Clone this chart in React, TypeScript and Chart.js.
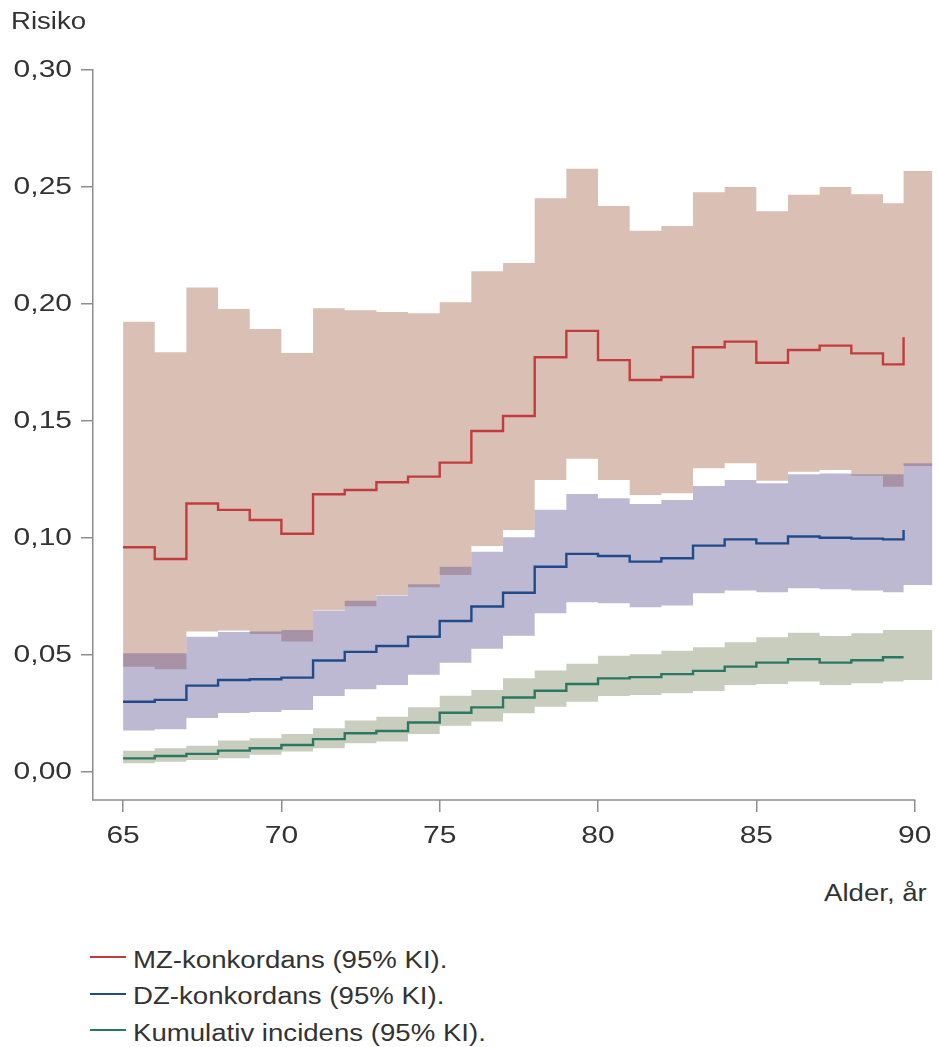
import React, { useEffect, useRef } from 'react';
import { Chart, registerables } from 'chart.js';

Chart.register(...registerables);

// ---------- data ----------
const ages = [65, 66, 67, 68, 69, 70, 71, 72, 73, 74, 75, 76, 77, 78, 79, 80, 81, 82, 83, 84, 85, 86, 87, 88, 89, 89.65];
const bandEnd = 90.565;
const xAxisEnd = 90;
const xMin = 64.05;
const yMin = -0.012;
const yMax = 0.3;
const xTickValues = [65, 70, 75, 80, 85, 90];
const xTickLabels = ['65', '70', '75', '80', '85', '90'];
const yTickValues = [0, 0.05, 0.1, 0.15, 0.2, 0.25, 0.3];
const yTickLabels = ['0,00', '0,05', '0,10', '0,15', '0,20', '0,25', '0,30'];

const mzLine = [0.096, 0.091, 0.1147, 0.112, 0.1077, 0.1018, 0.1187, 0.1205, 0.1238, 0.1262, 0.1322, 0.1457, 0.1521, 0.1772, 0.1885, 0.176, 0.1675, 0.1688, 0.1815, 0.1839, 0.1749, 0.1803, 0.1822, 0.1789, 0.1742, 0.1858];
const mzUpper = [0.1924, 0.1794, 0.207, 0.1979, 0.1893, 0.179, 0.1982, 0.1973, 0.1966, 0.196, 0.2007, 0.214, 0.2175, 0.2452, 0.2578, 0.2419, 0.2313, 0.2333, 0.2477, 0.25, 0.2396, 0.2467, 0.25, 0.2469, 0.243, 0.2568];
const mzLower = [0.045, 0.0439, 0.06, 0.0604, 0.059, 0.0557, 0.0692, 0.0708, 0.0756, 0.0789, 0.0842, 0.0966, 0.1034, 0.1248, 0.1338, 0.1248, 0.1184, 0.1191, 0.1298, 0.1319, 0.1245, 0.1283, 0.129, 0.1266, 0.1219, 0.1308];

const dzLine = [0.03, 0.0308, 0.0369, 0.0393, 0.0396, 0.0403, 0.0476, 0.0513, 0.0538, 0.0578, 0.0645, 0.0707, 0.0766, 0.0877, 0.0932, 0.0923, 0.0899, 0.0913, 0.0967, 0.0994, 0.0977, 0.1006, 0.1001, 0.0997, 0.0994, 0.1034];
const dzUpper = [0.0507, 0.0507, 0.0578, 0.0598, 0.06, 0.0607, 0.069, 0.0732, 0.0754, 0.0802, 0.0877, 0.0941, 0.1003, 0.112, 0.1188, 0.117, 0.1145, 0.1162, 0.1222, 0.1248, 0.1234, 0.1272, 0.1275, 0.1272, 0.1272, 0.1319];
const dzLower = [0.0177, 0.0182, 0.0231, 0.0252, 0.0256, 0.0265, 0.0325, 0.0353, 0.0372, 0.0415, 0.0467, 0.0526, 0.0582, 0.0678, 0.0725, 0.0721, 0.0704, 0.0711, 0.0764, 0.0775, 0.0768, 0.0785, 0.0781, 0.0775, 0.0768, 0.0799];

const ciLine = [0.0058, 0.0068, 0.0077, 0.0091, 0.0101, 0.0115, 0.014, 0.0165, 0.0175, 0.0211, 0.0253, 0.0276, 0.0318, 0.0347, 0.0376, 0.04, 0.0405, 0.0418, 0.0432, 0.045, 0.0467, 0.0482, 0.0467, 0.0477, 0.049, 0.049];
const ciUpper = [0.009, 0.0101, 0.0112, 0.0134, 0.0144, 0.0162, 0.0187, 0.022, 0.0236, 0.0276, 0.0326, 0.035, 0.04, 0.0433, 0.0462, 0.0496, 0.0503, 0.0518, 0.0533, 0.0554, 0.0576, 0.0595, 0.0581, 0.0593, 0.0607, 0.0607];
const ciLower = [0.0037, 0.0044, 0.0051, 0.0058, 0.0073, 0.0087, 0.0101, 0.0123, 0.013, 0.0162, 0.0197, 0.0215, 0.0251, 0.0279, 0.03, 0.0325, 0.0329, 0.0336, 0.0346, 0.0372, 0.0376, 0.0386, 0.0372, 0.0379, 0.0386, 0.0393];

const legendLabels = ['MZ-konkordans (95% KI).', 'DZ-konkordans (95% KI).', 'Kumulativ incidens (95% KI).'];
const yTitle = 'Risiko';
const xTitle = 'Alder, år';

// ---------- styles ----------
const RED = '#c23c3d';
const BLUE = '#1f4b8c';
const GREEN = '#2a7862';
const MZ_BAND = '#dac0b4';
const DZ_BAND = 'rgba(90,80,142,0.4)';
const CI_BAND = '#c8cdbd';
const AXIS = '#8e8e8e';
const TEXT = '#333333';
const FONT = '"Liberation Sans", Arial, sans-serif';
const TICK_STRETCH = 1.25;

const lineData = (vals: number[]) => ages.map((x, i) => ({ x, y: vals[i] }));
const bandData = (vals: number[]) =>
  [...ages, bandEnd].map((x, i) => ({ x, y: vals[Math.min(i, vals.length - 1)] }));

const band = (label: string, vals: number[], bg: string, order: number, fill: any) => ({
  label,
  data: bandData(vals),
  stepped: true,
  borderWidth: 0,
  borderColor: 'rgba(0,0,0,0)',
  backgroundColor: bg,
  pointRadius: 0,
  pointHoverRadius: 0,
  fill,
  order,
});

const line = (label: string, vals: number[], color: string) => ({
  label,
  data: lineData(vals),
  stepped: true,
  borderWidth: 2.4,
  borderColor: color,
  backgroundColor: color,
  pointRadius: 0,
  pointHoverRadius: 0,
  fill: false,
  order: 1,
  borderJoinStyle: 'miter',
  borderCapStyle: 'butt',
});

// tick labels of the reference are set in a wide face: stretch them horizontally
const axisPlugin = {
  id: 'axisExtras',
  beforeDraw(chart: any) {
    const ctx = chart.ctx as any;
    if (!ctx.__origFillText) {
      ctx.__origFillText = ctx.fillText;
      ctx.fillText = function (t: string, x: number, y: number, mw?: number) {
        this.save();
        this.translate(x, y);
        this.scale(TICK_STRETCH, 1);
        if (mw === undefined) this.__origFillText(t, 0, 0);
        else this.__origFillText(t, 0, 0, mw / TICK_STRETCH);
        this.restore();
      };
    }
  },
  afterDraw(chart: any) {
    const { ctx, chartArea, scales } = chart;
    const xs = scales.x;
    ctx.save();
    ctx.strokeStyle = AXIS;
    ctx.lineWidth = 1.5;
    ctx.beginPath();
    ctx.moveTo(chartArea.left - 0.75, chartArea.bottom);
    ctx.lineTo(xs.getPixelForValue(xAxisEnd) + 0.75, chartArea.bottom);
    ctx.stroke();
    ctx.restore();
  },
};

const textStyle = (left: number, top: number): React.CSSProperties => ({
  position: 'absolute',
  left,
  top,
  fontFamily: FONT,
  fontSize: 23,
  lineHeight: '23px',
  color: TEXT,
  whiteSpace: 'nowrap',
  transform: 'scaleX(1.2)',
  transformOrigin: '0 0',
});

export default function App() {
  const ref = useRef<HTMLCanvasElement>(null);

  useEffect(() => {
    if (!ref.current) return;
    const chart = new Chart(ref.current, {
      type: 'line',
      data: {
        datasets: [
          band('MZ upper', mzUpper, MZ_BAND, 10, '+1'),
          band('MZ lower', mzLower, MZ_BAND, 10, false),
          band('DZ upper', dzUpper, DZ_BAND, 9, '+1'),
          band('DZ lower', dzLower, DZ_BAND, 9, false),
          band('CI upper', ciUpper, CI_BAND, 8, '+1'),
          band('CI lower', ciLower, CI_BAND, 8, false),
          line(legendLabels[0], mzLine, RED),
          line(legendLabels[1], dzLine, BLUE),
          line(legendLabels[2], ciLine, GREEN),
        ] as any,
      },
      options: {
        animation: false,
        responsive: false,
        events: [],
        layout: { padding: { top: 70, left: 0, right: 0, bottom: 0 } },
        plugins: {
          legend: { display: false },
          tooltip: { enabled: false },
          title: { display: false },
        },
        scales: {
          x: {
            type: 'linear',
            min: xMin,
            max: bandEnd,
            border: { display: false },
            grid: { drawOnChartArea: false, drawTicks: true, tickLength: 12, color: AXIS, lineWidth: 1.5 },
            ticks: {
              font: { family: FONT, size: 24 },
              color: TEXT,
              padding: 10,
              maxRotation: 0,
              autoSkip: false,
              callback: (_v: any, i: number) => xTickLabels[i],
            },
            afterBuildTicks: (s: any) => {
              s.ticks = xTickValues.map((v) => ({ value: v }));
            },
            afterFit: (s: any) => {
              s.height = 70;
            },
          },
          y: {
            type: 'linear',
            min: yMin,
            max: yMax,
            border: { display: true, color: AXIS, width: 1.5 },
            grid: { drawOnChartArea: false, drawTicks: true, tickLength: 12, color: AXIS, lineWidth: 1.5 },
            ticks: {
              font: { family: FONT, size: 24 },
              color: TEXT,
              padding: 9,
              callback: (_v: any, i: number) => yTickLabels[i],
            },
            afterBuildTicks: (s: any) => {
              s.ticks = yTickValues.map((v) => ({ value: v }));
            },
            afterFit: (s: any) => {
              s.width = 93;
            },
          },
        } as any,
      },
      plugins: [axisPlugin],
    });
    return () => chart.destroy();
  }, []);

  const legendColors = [RED, BLUE, GREEN];

  return (
    <div
      style={{
        position: 'fixed',
        left: 0,
        top: 0,
        width: 938,
        height: 1047,
        background: '#ffffff',
        overflow: 'hidden',
      }}
    >
      <canvas
        ref={ref}
        width={938}
        height={870}
        style={{ position: 'absolute', left: 0, top: 0, width: 938, height: 870 }}
      />
      <div style={textStyle(11, 10)}>{yTitle}</div>
      <div style={textStyle(824, 881.5)}>{xTitle}</div>
      {legendLabels.map((lab, i) => (
        <React.Fragment key={lab}>
          <div
            style={{
              position: 'absolute',
              left: 90,
              top: 957 + i * 36.7 - 1,
              width: 36,
              height: 2,
              background: legendColors[i],
            }}
          />
          <div style={textStyle(133, 948.5 + i * 36.7)}>{lab}</div>
        </React.Fragment>
      ))}
    </div>
  );
}
